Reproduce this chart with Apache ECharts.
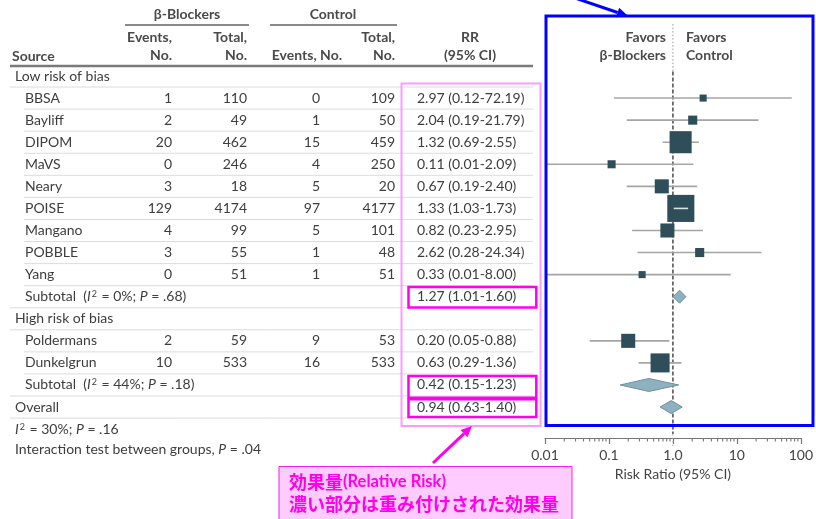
<!DOCTYPE html>
<html>
<head>
<meta charset="utf-8">
<script src="https://cdn.jsdelivr.net/npm/echarts@6/dist/echarts.min.js"></script>
<style>
  html, body { margin: 0; padding: 0; background: #fff; }
  #chart { width: 816px; height: 519px; }
</style>
</head>
<body>
<div id="chart"></div>
<script>
// ---- Trial data ----
const studyNames   = ['BBSA', 'Bayliff', 'DIPOM', 'MaVS', 'Neary', 'POISE', 'Mangano', 'POBBLE', 'Yang', 'Poldermans', 'Dunkelgrun'];
const riskOfBias   = ['low', 'low', 'low', 'low', 'low', 'low', 'low', 'low', 'low', 'high', 'high'];
const bbEvents     = [1, 2, 20, 0, 3, 129, 4, 3, 0, 2, 10];
const bbTotal      = [110, 49, 462, 246, 18, 4174, 99, 55, 51, 59, 533];
const ctlEvents    = [0, 1, 15, 4, 5, 97, 5, 1, 1, 9, 16];
const ctlTotal     = [109, 50, 459, 250, 20, 4177, 101, 48, 51, 53, 533];
const rr           = [2.97, 2.04, 1.32, 0.11, 0.67, 1.33, 0.82, 2.62, 0.33, 0.20, 0.63];
const rrLow        = [0.12, 0.19, 0.69, 0.01, 0.19, 1.03, 0.23, 0.28, 0.01, 0.05, 0.29];
const rrHigh       = [72.19, 21.79, 2.55, 2.09, 2.40, 1.73, 2.95, 24.34, 8.00, 0.88, 1.36];
const weightPct    = [2.0, 3.3, 19.5, 2.6, 7.9, 29.3, 7.9, 3.3, 2.0, 7.9, 14.5];

// pooled estimates: low-risk subtotal, high-risk subtotal, overall
const pooledRR     = [1.27, 0.42, 0.94];
const pooledLow    = [1.01, 0.15, 0.63];
const pooledHigh   = [1.60, 1.23, 1.40];
const subtotalI2   = ['0%', '44%'];
const subtotalP    = ['.68', '.18'];
const overallI2    = '30%';
const overallP     = '.16';
const interactionP = '.04';

const groupTitles  = { low: 'Low risk of bias', high: 'High risk of bias' };
const axisTicks    = [0.01, 0.1, 1, 10, 100];
const axisTickText = ['0.01', '0.1', '1.0', '10', '100'];

// ---- Layout ----
const FONT_FAMILY = 'Lato, "Open Sans", "Liberation Sans", sans-serif';
const TEXT = '#3d3d3d';
const ROW_H = 22.07, ROW0_Y = 76, AXIS_Y = 438;
const Y_MIN = -2.5, Y_MAX = (AXIS_Y - ROW0_Y) / ROW_H;
const rowY = r => ROW0_Y + r * ROW_H;
const GRID_TOP = rowY(Y_MIN);
const COL = { group: 15, name: 25, bbEv: 172, bbTot: 247, ctEv: 320, ctTot: 395, rr: 417, lineL: 10, lineR: 533 };

// build the list of table rows
const rows = [];
const pooledRowOf = {};
['low', 'high'].forEach((g, gi) => {
  rows.push({ kind: 'group', label: groupTitles[g] });
  studyNames.forEach((n, i) => {
    if (riskOfBias[i] === g) rows.push({ kind: 'study', idx: i });
  });
  pooledRowOf[gi] = rows.length;
  rows.push({ kind: 'subtotal', idx: gi });
});
pooledRowOf[2] = rows.length;
rows.push({ kind: 'overall', idx: 2 });
rows.push({ kind: 'note1' });
rows.push({ kind: 'note2' });

const fmt = v => v.toFixed(2);
const rrText = (e, l, h) => fmt(e) + ' (' + fmt(l) + '-' + fmt(h) + ')';

const els = [];
function txt(x, y, text, o) {
  o = o || {};
  els.push({
    type: 'text', x: x, y: y, silent: true, z: 10,
    style: {
      text: text,
      font: (o.weight || 'normal') + ' ' + (o.size || 14) + 'px ' + FONT_FAMILY,
      fill: o.color || TEXT,
      align: o.align || 'left',
      verticalAlign: 'middle',
      rich: o.rich
    }
  });
}
function hline(x1, x2, y, color, w) {
  els.push({ type: 'line', silent: true, z: 5, shape: { x1: x1, y1: y, x2: x2, y2: y }, style: { stroke: color, lineWidth: w } });
}
function box(x1, y1, x2, y2, color, w, fill) {
  els.push({ type: 'rect', silent: true, z: 20, shape: { x: x1, y: y1, width: x2 - x1, height: y2 - y1 },
    style: { stroke: color, lineWidth: w, fill: fill || 'none' } });
}
function arrow(x1, y1, x2, y2, color, w, headL, headW) {
  const a = Math.atan2(y2 - y1, x2 - x1);
  const bx = x2 - headL * Math.cos(a), by = y2 - headL * Math.sin(a);
  const px = -Math.sin(a) * headW / 2, py = Math.cos(a) * headW / 2;
  els.push({ type: 'line', silent: true, z: 30, shape: { x1: x1, y1: y1, x2: bx, y2: by }, style: { stroke: color, lineWidth: w } });
  els.push({ type: 'polygon', silent: true, z: 30, shape: { points: [[x2, y2], [bx + px, by + py], [bx - px, by - py]] }, style: { fill: color } });
}

const richBase = {
  it:  { fontStyle: 'italic', fontSize: 14, fontFamily: FONT_FAMILY, fill: TEXT },
  sup: { fontSize: 9, fontFamily: FONT_FAMILY, fill: TEXT, verticalAlign: 'top', padding: [0, 1, 0, 1] }
};

// ---- header ----
const HB = { weight: 'bold', color: '#4a4a4a' };
txt(187, 14, 'β-Blockers', Object.assign({ align: 'center' }, HB));
txt(333, 14, 'Control', Object.assign({ align: 'center' }, HB));
hline(125, 249, 25, '#8a8a8a', 2);
hline(270, 397, 25, '#8a8a8a', 2);
txt(12, 56, 'Source', HB);
txt(COL.bbEv, 37, 'Events,', Object.assign({ align: 'right' }, HB));
txt(COL.bbEv, 55, 'No.', Object.assign({ align: 'right' }, HB));
txt(COL.bbTot, 37, 'Total,', Object.assign({ align: 'right' }, HB));
txt(COL.bbTot, 55, 'No.', Object.assign({ align: 'right' }, HB));
txt(342, 55, 'Events, No.', Object.assign({ align: 'right' }, HB));
txt(COL.ctTot, 37, 'Total,', Object.assign({ align: 'right' }, HB));
txt(COL.ctTot, 55, 'No.', Object.assign({ align: 'right' }, HB));
txt(470, 37, 'RR', Object.assign({ align: 'center' }, HB));
txt(470, 55, '(95% CI)', Object.assign({ align: 'center' }, HB));
hline(COL.lineL, COL.lineR, 66, '#7a7a7a', 2.5);
txt(666, 37, 'Favors', Object.assign({ align: 'right' }, HB));
txt(666, 55, 'β-Blockers', Object.assign({ align: 'right' }, HB));
txt(686, 37, 'Favors', HB);
txt(686, 55, 'Control', HB);

// ---- table body ----
rows.forEach((row, r) => {
  const y = rowY(r);
  if (row.kind === 'group') {
    txt(COL.group, y, row.label);
  } else if (row.kind === 'study') {
    const i = row.idx;
    txt(COL.name, y, studyNames[i]);
    txt(COL.bbEv, y, String(bbEvents[i]), { align: 'right' });
    txt(COL.bbTot, y, String(bbTotal[i]), { align: 'right' });
    txt(COL.ctEv, y, String(ctlEvents[i]), { align: 'right' });
    txt(COL.ctTot, y, String(ctlTotal[i]), { align: 'right' });
    txt(COL.rr, y, rrText(rr[i], rrLow[i], rrHigh[i]));
  } else if (row.kind === 'subtotal') {
    const k = row.idx;
    txt(COL.name, y, 'Subtotal  ({it|I}{sup|2} = ' + subtotalI2[k] + '; {it|P} = ' + subtotalP[k] + ')', { rich: richBase });
    txt(COL.rr, y, rrText(pooledRR[k], pooledLow[k], pooledHigh[k]));
  } else if (row.kind === 'overall') {
    txt(COL.group, y, 'Overall');
    txt(COL.rr, y, rrText(pooledRR[2], pooledLow[2], pooledHigh[2]));
  } else if (row.kind === 'note1') {
    txt(COL.group, y, '{it|I}{sup|2} = ' + overallI2 + '; {it|P} = ' + overallP, { rich: richBase });
  } else if (row.kind === 'note2') {
    txt(COL.group, y - 2, 'Interaction test between groups, {it|P} = ' + interactionP, { rich: richBase });
  }
  if (row.kind !== 'note1' && row.kind !== 'note2') {
    hline(row.kind === 'study' ? 24 : COL.lineL, COL.lineR, y + ROW_H / 2, '#dcdcdc', 1);
  }
});

// ---- highlight boxes and callouts ----
box(546, 16, 813, 425.5, '#0000ff', 3);
arrow(572, -3, 628, 16, '#0000ff', 3, 11, 10);
box(401.5, 83.5, 540.5, 426, '#ff99ff', 2);
box(408.5, 287, 536.3, 307.5, '#ff00ee', 2.5);
box(408.5, 376, 536.3, 397.7, '#ff00ee', 2.5);
box(408.5, 399.2, 536.3, 417, '#ff00ee', 2.5);
arrow(433, 463, 472, 426, '#ff00ee', 3, 11, 10);
box(279, 466.5, 572, 530, '#ee22ee', 1, '#ffccff');
const CJK = '"Noto Sans CJK JP", sans-serif';
const noteRich = {
  j: { fontFamily: CJK, fontWeight: 'bold', fontSize: 18, fill: '#ff00ee' },
  l: { fontFamily: FONT_FAMILY, fontWeight: 'bold', fontSize: 16.5, fill: '#ff00ee' }
};
els.push({ type: 'text', x: 289, y: 482, z: 31, silent: true,
  style: { text: '{j|効果量}{l|(Relative Risk)}', rich: noteRich, verticalAlign: 'middle' } });
els.push({ type: 'text', x: 289, y: 504, z: 31, silent: true,
  style: { text: '{j|濃い部分は重み付けされた効果量}', rich: noteRich, verticalAlign: 'middle' } });

// ---- forest plot data ----
const studyData = studyNames.map((n, i) => {
  const r = rows.findIndex(row => row.kind === 'study' && row.idx === i);
  return [rr[i], rrLow[i], rrHigh[i], r, weightPct[i]];
});
const pooledData = pooledRR.map((v, k) => [v, pooledLow[k], pooledHigh[k], pooledRowOf[k]]);
const minorTickValues = [];
[0.01, 0.1, 1, 10].forEach(d => [2, 3, 4, 5, 6, 7, 8, 9].forEach(m => minorTickValues.push([d * m])));

const chart = echarts.init(document.getElementById('chart'), null, { renderer: 'canvas' });
chart.setOption({
  animation: false,
  backgroundColor: '#fff',
  grid: { left: 545, width: 261, top: GRID_TOP, height: AXIS_Y - GRID_TOP, containLabel: false },
  xAxis: {
    type: 'log', logBase: 10, min: 0.01, max: 100,
    axisLine: { onZero: false, lineStyle: { color: '#777', width: 1.2 } },
    axisTick: { show: true, length: 6, lineStyle: { color: '#777', width: 1.2 } },
    splitLine: { show: false },
    axisLabel: {
      margin: 10, fontSize: 14, color: '#444', fontFamily: FONT_FAMILY,
      formatter: v => { const k = axisTicks.findIndex(t => Math.abs(Math.log10(t) - Math.log10(v)) < 1e-6); return k >= 0 ? axisTickText[k] : ''; }
    },
    name: 'Risk Ratio (95% CI)', nameLocation: 'middle', nameGap: 29,
    nameTextStyle: { fontSize: 14, color: '#444', fontFamily: FONT_FAMILY }
  },
  yAxis: { type: 'value', inverse: true, min: Y_MIN, max: Y_MAX, show: false },
  series: [
    { // line of no effect
      type: 'custom', data: [[1]], encode: { x: 0 }, clip: false, z: 1,
      renderItem: (p, api) => {
        const top = api.coord([api.value(0), -2.35]);
        const mid = api.coord([api.value(0), -0.2]);
        const bot = api.coord([api.value(0), Y_MAX]);
        return { type: 'group', children: [
          { type: 'line', shape: { x1: top[0], y1: top[1], x2: mid[0], y2: mid[1] }, style: { stroke: '#999', lineWidth: 1, lineDash: [1.5, 2] } },
          { type: 'line', shape: { x1: mid[0], y1: mid[1], x2: bot[0], y2: bot[1] - 4 }, style: { stroke: '#555', lineWidth: 1.6, lineDash: [4, 2] } },
          { type: 'line', shape: { x1: bot[0], y1: bot[1] - 4, x2: bot[0], y2: bot[1] + 8 }, style: { stroke: '#aaa', lineWidth: 1, lineDash: [1.5, 2] } }
        ] };
      }
    },
    { // minor log ticks
      type: 'custom', data: minorTickValues, encode: { x: 0 }, clip: false, z: 2,
      renderItem: (p, api) => {
        const c = api.coord([api.value(0), Y_MAX]);
        return { type: 'line', shape: { x1: c[0], y1: c[1], x2: c[0], y2: c[1] + 3.5 }, style: { stroke: '#777', lineWidth: 1.1 } };
      }
    },
    { // studies: CI line + weighted square
      type: 'custom', data: studyData, encode: { x: [0, 1, 2], y: 3 }, clip: false, z: 3,
      renderItem: (p, api) => {
        const row = api.value(3);
        const c = api.coord([api.value(0), row]);
        const l = api.coord([api.value(1), row]);
        const h = api.coord([api.value(2), row]);
        const s = Math.sqrt(api.value(4)) * 5;
        const kids = [
          { type: 'line', shape: { x1: l[0], y1: c[1], x2: h[0], y2: c[1] }, style: { stroke: '#a5a5a5', lineWidth: 1.6 } },
          { type: 'rect', shape: { x: c[0] - s / 2, y: c[1] - s / 2, width: s, height: s }, style: { fill: '#2e4e5a' } }
        ];
        if (l[0] > c[0] - s / 2 && h[0] < c[0] + s / 2) {
          kids.push({ type: 'line', shape: { x1: l[0], y1: c[1], x2: h[0], y2: c[1] }, style: { stroke: '#d9e2e6', lineWidth: 1.6 } });
        }
        return { type: 'group', children: kids };
      }
    },
    { // pooled diamonds
      type: 'custom', data: pooledData, encode: { x: [0, 1, 2], y: 3 }, clip: false, z: 4,
      renderItem: (p, api) => {
        const row = api.value(3);
        const c = api.coord([api.value(0), row]);
        const l = api.coord([api.value(1), row]);
        const h = api.coord([api.value(2), row]);
        const hh = 6.5;
        return { type: 'polygon', shape: { points: [[l[0], c[1]], [c[0], c[1] - hh], [h[0], c[1]], [c[0], c[1] + hh]] },
          style: { fill: '#8fb0be', stroke: '#6f909d', lineWidth: 1 } };
      }
    }
  ],
  graphic: els
});
</script>
</body>
</html>
